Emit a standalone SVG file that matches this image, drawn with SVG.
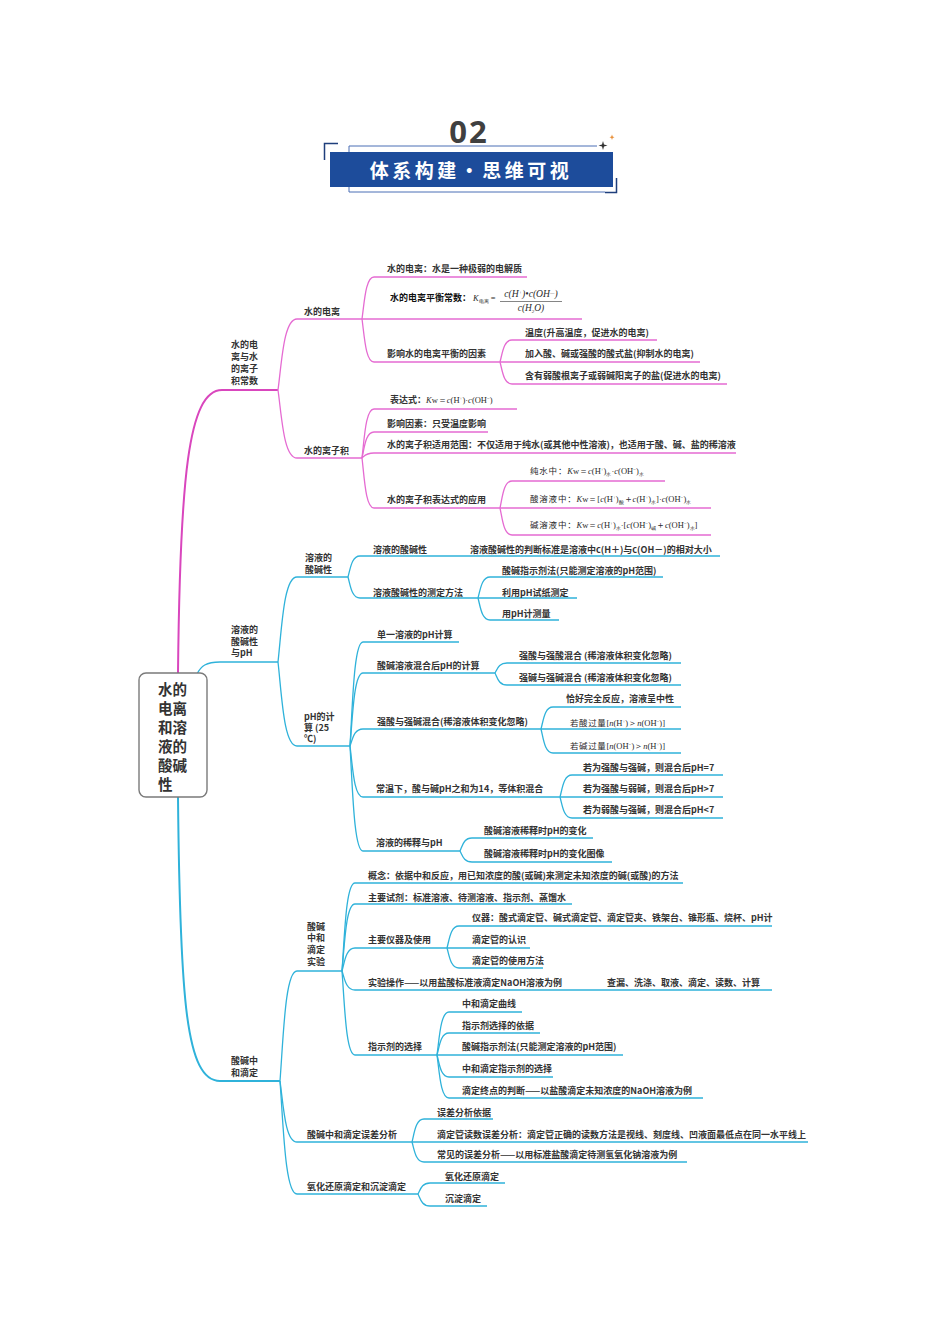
<svg xmlns="http://www.w3.org/2000/svg" width="950" height="1344" viewBox="0 0 950 1344">
<style>
.t{font-family:"Noto Sans CJK SC","Liberation Sans",sans-serif;font-size:9px;font-weight:bold;fill:#333}
.r{font-family:"Noto Sans CJK SC","Liberation Sans",sans-serif;font-size:8.5px;font-weight:normal;fill:#2a2a2a}
.m{font-family:"Liberation Serif",serif;font-size:8.5px;font-weight:normal;fill:#2a2a2a}
.i{font-style:italic}
.sb{font-size:5px}
.pk{fill:none;stroke:#e56bd2;stroke-width:1.3}
.bl{fill:none;stroke:#2fb2da;stroke-width:1.3}
</style>
<rect width="950" height="1344" fill="#fff"/>
<g id="header">
<text x="469" y="143" text-anchor="middle" font-family="'Open Sans','Liberation Sans',sans-serif" font-size="31" font-weight="bold" fill="#404040" letter-spacing="2">02</text>
<path d="M349,152 V146 H597 M349,186 V192 H605" fill="none" stroke="#4a6fb5" stroke-width="1"/>
<path d="M338,143.5 H324.5 V160" fill="none" stroke="#1f3f7c" stroke-width="1.5"/>
<path d="M605,192.5 H616.5 V178" fill="none" stroke="#1f3f7c" stroke-width="1.5"/>
<rect x="330" y="152" width="283" height="35" fill="#1d4c9b"/>
<text x="471" y="178" text-anchor="middle" font-family="'Noto Sans CJK SC',sans-serif" font-size="19" font-weight="bold" fill="#fff" letter-spacing="3.5">体系构建·思维可视</text>
<path d="M603,141 L604,144.5 L607.5,145.5 L604,146.5 L603,150 L602,146.5 L598.5,145.5 L602,144.5 Z" fill="#333"/>
<path d="M612,134.5 L612.7,136.5 L614.5,137.2 L612.7,137.9 L612,140 L611.3,137.9 L609.5,137.2 L611.3,136.5 Z" fill="#e8903a"/>
</g>
<g id="connectors">
<path d="M178,673 C180,480 188,390 222,390 L278,390" fill="none" stroke="#d946bd" stroke-width="2"/>
<path class="pk" d="M278,390 C281.8,361.6 283.7,319 297,319 L362,319"/>
<path class="pk" d="M278,390 C281.8,417.2 283.7,458 297,458 L362,458"/>
<path class="pk" d="M362,319 C364.4,302.2 365.6,277 374,277 L527,277"/>
<path class="pk" d="M362,319 L582,319"/>
<path class="pk" d="M362,319 C364.4,336.2 365.6,362 374,362 L500,362"/>
<path class="pk" d="M500,362 C502.4,353.2 503.6,340 512,340 L657,340"/>
<path class="pk" d="M500,362 L700,362"/>
<path class="pk" d="M500,362 C502.4,370.8 503.6,384 512,384 L727,384"/>
<path class="pk" d="M362,458 C364.4,438.4 365.6,409 374,409 L517,409"/>
<path class="pk" d="M362,458 C364.4,447.6 365.6,432 374,432 L488,432"/>
<path class="pk" d="M362,458 C364.4,456 365.6,453 374,453 L736,453"/>
<path class="pk" d="M362,458 C364.4,478 365.6,508 374,508 L500,508"/>
<path class="pk" d="M500,508 C502.4,497.2 503.6,481 512,481 L665,481"/>
<path class="pk" d="M500,508 L711,508"/>
<path class="pk" d="M500,508 C502.4,518.8 503.6,535 512,535 L711,535"/>
<path class="bl" d="M197,674 C201,666 206,662 220,662 L278,662"/>
<path class="bl" d="M278,662 C281.8,628 283.7,577 297,577 L348,577"/>
<path class="bl" d="M278,662 C281.8,695.6 283.7,746 297,746 L350,746"/>
<path class="bl" d="M348,577 C350.4,568.6 351.6,556 360,556 L720,556"/>
<path class="bl" d="M348,577 C350.4,585.4 351.6,598 360,598 L478,598"/>
<path class="bl" d="M478,598 C480.4,589.6 481.6,577 490,577 L663,577"/>
<path class="bl" d="M478,598 L577,598"/>
<path class="bl" d="M478,598 C480.4,606.8 481.6,620 490,620 L559,620"/>
<path class="bl" d="M350,746 C352.6,704.4 353.9,642 363,642 L459,642"/>
<path class="bl" d="M350,746 C352.6,716.8 353.9,673 363,673 L495,673"/>
<path class="bl" d="M350,746 C352.6,739.2 353.9,729 363,729 L541,729"/>
<path class="bl" d="M350,746 C352.6,766.4 353.9,797 363,797 L560,797"/>
<path class="bl" d="M350,746 C352.6,788 353.9,851 363,851 L460,851"/>
<path class="bl" d="M495,673 C497.4,669 498.6,663 507,663 L681,663"/>
<path class="bl" d="M495,673 C497.4,677.8 498.6,685 507,685 L681,685"/>
<path class="bl" d="M541,729 C543.4,720.2 544.6,707 553,707 L681,707"/>
<path class="bl" d="M541,729 L681,729"/>
<path class="bl" d="M541,729 C543.4,738.6 544.6,753 553,753 L681,753"/>
<path class="bl" d="M560,797 C562.4,788.2 563.6,775 572,775 L723,775"/>
<path class="bl" d="M560,797 L723,797"/>
<path class="bl" d="M560,797 C562.4,805.4 563.6,818 572,818 L723,818"/>
<path class="bl" d="M460,851 C462.4,845.8 463.6,838 472,838 L593,838"/>
<path class="bl" d="M460,851 C462.4,855.4 463.6,862 472,862 L612,862"/>
<path d="M178,797 C180,1000 186,1081 220,1081 L280,1081" fill="none" stroke="#2fb2da" stroke-width="2"/>
<path class="bl" d="M280,1081 C283.4,1037 285.1,971 297,971 L342,971"/>
<path class="bl" d="M280,1081 C283.4,1105.4 285.1,1142 297,1142 L412,1142"/>
<path class="bl" d="M280,1081 C283.4,1126.2 285.1,1194 297,1194 L418,1194"/>
<path class="bl" d="M342,971 C344.6,935.8 345.9,883 355,883 L683,883"/>
<path class="bl" d="M342,971 C344.6,944.2 345.9,904 355,904 L572,904"/>
<path class="bl" d="M342,971 C344.6,961.8 345.9,948 355,948 L447,948"/>
<path class="bl" d="M342,971 C344.6,978.6 345.9,990 355,990 L772,990"/>
<path class="bl" d="M342,971 C344.6,1004.6 345.9,1055 355,1055 L437,1055"/>
<path class="bl" d="M447,948 C449.4,939.2 450.6,926 459,926 L772,926"/>
<path class="bl" d="M447,948 L530,948"/>
<path class="bl" d="M447,948 C449.4,956 450.6,968 459,968 L543,968"/>
<path class="bl" d="M437,1055 C439.4,1037.8 440.6,1012 449,1012 L522,1012"/>
<path class="bl" d="M437,1055 C439.4,1046.2 440.6,1033 449,1033 L540,1033"/>
<path class="bl" d="M437,1055 L623,1055"/>
<path class="bl" d="M437,1055 C439.4,1063.8 440.6,1077 449,1077 L553,1077"/>
<path class="bl" d="M437,1055 C439.4,1072.2 440.6,1098 449,1098 L703,1098"/>
<path class="bl" d="M412,1142 C414.4,1132.8 415.6,1119 424,1119 L493,1119"/>
<path class="bl" d="M412,1142 L808,1142"/>
<path class="bl" d="M412,1142 C414.4,1150 415.6,1162 424,1162 L687,1162"/>
<path class="bl" d="M418,1194 C420.4,1189.6 421.6,1183 430,1183 L505,1183"/>
<path class="bl" d="M418,1194 C420.4,1198.8 421.6,1206 430,1206 L487,1206"/>
</g>
<g id="root">
<rect x="139" y="673" width="68" height="124" rx="7" fill="#fff" stroke="#7a7a7a" stroke-width="1.4"/>
<text font-family="'Noto Sans CJK SC',sans-serif" font-size="14.5" font-weight="bold" fill="#333" x="158">
<tspan x="158" y="695">水的</tspan><tspan x="158" y="714">电离</tspan><tspan x="158" y="733">和溶</tspan><tspan x="158" y="752">液的</tspan><tspan x="158" y="771">酸碱</tspan><tspan x="158" y="790">性</tspan></text>
</g>
<g id="n-water"><text class="t"><tspan x="231" y="348">水的电</tspan><tspan x="231" y="360">离与水</tspan><tspan x="231" y="372">的离子</tspan><tspan x="231" y="384">积常数</tspan></text></g>
<g id="n-ionization"><text class="t" x="304" y="315">水的电离</text></g>
<g id="n-ion1"><text class="t" x="387" y="272">水的电离：水是一种极弱的电解质</text></g>
<g id="n-ion2"><text class="t" x="390" y="301" style="fill:#111">水的电离平衡常数：</text>
<text class="m" x="473" y="301"><tspan class="i">K</tspan><tspan class="sb" dy="2">电离</tspan><tspan dy="-2"> =</tspan></text>
<text class="m i" x="531" y="297" text-anchor="middle" style="font-size:9.6px">c(H<tspan class="sb" dy="-3">+</tspan><tspan dy="3">)</tspan>•c(OH<tspan class="sb" dy="-3">—</tspan><tspan dy="3">)</tspan></text>
<path d="M500,301.5 H562" stroke="#333" stroke-width="0.6"/>
<text class="m i" x="531" y="311" text-anchor="middle" style="font-size:9.4px">c(H<tspan class="sb" dy="2">2</tspan><tspan dy="-2">O)</tspan></text></g>
<g id="n-ion3"><text class="t" x="387" y="357">影响水的电离平衡的因素</text></g>
<g id="n-ion3a"><text class="t" x="525" y="336">温度(升高温度，促进水的电离)</text></g>
<g id="n-ion3b"><text class="t" x="525" y="357">加入酸、碱或强酸的酸式盐(抑制水的电离)</text></g>
<g id="n-ion3c"><text class="t" x="525" y="379">含有弱酸根离子或弱碱阳离子的盐(促进水的电离)</text></g>
<g id="n-kw"><text class="t" x="304" y="454">水的离子积</text></g>
<g id="n-kw1"><text class="t" x="390" y="403">表达式：<tspan class="m" style="font-weight:normal"><tspan class="i">K</tspan>w＝<tspan class="i">c</tspan>(H<tspan class="sb" dy="-3">+</tspan><tspan dy="3">)·</tspan><tspan class="i">c</tspan>(OH<tspan class="sb" dy="-3">−</tspan><tspan dy="3">)</tspan></tspan></text></g>
<g id="n-kw2"><text class="t" x="387" y="427">影响因素：只受温度影响</text></g>
<g id="n-kw3"><text class="t" x="387" y="448">水的离子积适用范围：不仅适用于纯水(或其他中性溶液)，也适用于酸、碱、盐的稀溶液</text></g>
<g id="n-kw4"><text class="t" x="387" y="503">水的离子积表达式的应用</text></g>
<g id="n-kw4a"><text class="r" x="530" y="474" letter-spacing="0.8">纯水中：<tspan class="m" letter-spacing="0"><tspan class="i">K</tspan>w＝<tspan class="i">c</tspan>(H<tspan class="sb" dy="-3">+</tspan><tspan dy="3">)</tspan><tspan class="sb" dy="1.5">水</tspan><tspan dy="-1.5">·</tspan><tspan class="i">c</tspan>(OH<tspan class="sb" dy="-3">−</tspan><tspan dy="3">)</tspan><tspan class="sb" dy="1.5">水</tspan></tspan></text></g>
<g id="n-kw4b"><text class="r" x="530" y="502" letter-spacing="0.8">酸溶液中：<tspan class="m" letter-spacing="0"><tspan class="i">K</tspan>w＝[<tspan class="i">c</tspan>(H<tspan class="sb" dy="-3">+</tspan><tspan dy="3">)</tspan><tspan class="sb" dy="1.5">酸</tspan><tspan dy="-1.5">＋</tspan><tspan class="i">c</tspan>(H<tspan class="sb" dy="-3">+</tspan><tspan dy="3">)</tspan><tspan class="sb" dy="1.5">水</tspan><tspan dy="-1.5">]·</tspan><tspan class="i">c</tspan>(OH<tspan class="sb" dy="-3">−</tspan><tspan dy="3">)</tspan><tspan class="sb" dy="1.5">水</tspan></tspan></text></g>
<g id="n-kw4c"><text class="r" x="530" y="528" letter-spacing="0.8">碱溶液中：<tspan class="m" letter-spacing="0"><tspan class="i">K</tspan>w＝<tspan class="i">c</tspan>(H<tspan class="sb" dy="-3">+</tspan><tspan dy="3">)</tspan><tspan class="sb" dy="1.5">水</tspan><tspan dy="-1.5">·[</tspan><tspan class="i">c</tspan>(OH<tspan class="sb" dy="-3">−</tspan><tspan dy="3">)</tspan><tspan class="sb" dy="1.5">碱</tspan><tspan dy="-1.5">＋</tspan><tspan class="i">c</tspan>(OH<tspan class="sb" dy="-3">−</tspan><tspan dy="3">)</tspan><tspan class="sb" dy="1.5">水</tspan><tspan dy="-1.5">]</tspan></tspan></text></g>
<g id="n-ph"><text class="t"><tspan x="231" y="633">溶液的</tspan><tspan x="231" y="645">酸碱性</tspan><tspan x="231" y="656">与pH</tspan></text></g>
<g id="n-acid"><text class="t"><tspan x="305" y="561">溶液的</tspan><tspan x="305" y="573">酸碱性</tspan></text></g>
<g id="n-acid1"><text class="t" x="373" y="553">溶液的酸碱性</text><text class="t" x="470" y="553">溶液酸碱性的判断标准是溶液中c(H＋)与c(OH－)的相对大小</text></g>
<g id="n-acid2"><text class="t" x="373" y="596">溶液酸碱性的测定方法</text></g>
<g id="n-acid2a"><text class="t" x="502" y="574">酸碱指示剂法(只能测定溶液的pH范围)</text></g>
<g id="n-acid2b"><text class="t" x="502" y="596">利用pH试纸测定</text></g>
<g id="n-acid2c"><text class="t" x="502" y="617">用pH计测量</text></g>
<g id="n-calc"><text class="t"><tspan x="304" y="720">pH的计</tspan><tspan x="304" y="731">算 (25</tspan><tspan x="304" y="742">℃)</tspan></text></g>
<g id="n-calc1"><text class="t" x="377" y="638">单一溶液的pH计算</text></g>
<g id="n-calc2"><text class="t" x="377" y="669">酸碱溶液混合后pH的计算</text></g>
<g id="n-calc2a"><text class="t" x="519" y="659">强酸与强酸混合 (稀溶液体积变化忽略)</text></g>
<g id="n-calc2b"><text class="t" x="519" y="681">强碱与强碱混合 (稀溶液体积变化忽略)</text></g>
<g id="n-calc3"><text class="t" x="377" y="725">强酸与强碱混合(稀溶液体积变化忽略)</text></g>
<g id="n-calc3a"><text class="t" x="566" y="702">恰好完全反应，溶液呈中性</text></g>
<g id="n-calc3b"><text class="r" x="570" y="726" letter-spacing="0.6">若酸过量<tspan class="m" letter-spacing="0">[<tspan class="i">n</tspan>(H<tspan class="sb" dy="-3">+</tspan><tspan dy="3">)＞</tspan><tspan class="i">n</tspan>(OH<tspan class="sb" dy="-3">−</tspan><tspan dy="3">)]</tspan></tspan></text></g>
<g id="n-calc3c"><text class="r" x="570" y="749" letter-spacing="0.6">若碱过量<tspan class="m" letter-spacing="0">[<tspan class="i">n</tspan>(OH<tspan class="sb" dy="-3">−</tspan><tspan dy="3">)＞</tspan><tspan class="i">n</tspan>(H<tspan class="sb" dy="-3">+</tspan><tspan dy="3">)]</tspan></tspan></text></g>
<g id="n-calc4"><text class="t" x="376" y="792">常温下，酸与碱pH之和为14，等体积混合</text></g>
<g id="n-calc4a"><text class="t" x="583" y="771">若为强酸与强碱，则混合后pH=7</text></g>
<g id="n-calc4b"><text class="t" x="583" y="792">若为强酸与弱碱，则混合后pH&gt;7</text></g>
<g id="n-calc4c"><text class="t" x="583" y="813">若为弱酸与强碱，则混合后pH&lt;7</text></g>
<g id="n-calc5"><text class="t" x="376" y="846">溶液的稀释与pH</text></g>
<g id="n-calc5a"><text class="t" x="484" y="834">酸碱溶液稀释时pH的变化</text></g>
<g id="n-calc5b"><text class="t" x="484" y="857">酸碱溶液稀释时pH的变化图像</text></g>
<g id="n-titr"><text class="t"><tspan x="231" y="1064">酸碱中</tspan><tspan x="231" y="1076">和滴定</tspan></text></g>
<g id="n-exp"><text class="t"><tspan x="307" y="930">酸碱</tspan><tspan x="307" y="941">中和</tspan><tspan x="307" y="953">滴定</tspan><tspan x="307" y="965">实验</tspan></text></g>
<g id="n-exp1"><text class="t" x="368" y="879">概念：依据中和反应，用已知浓度的酸(或碱)来测定未知浓度的碱(或酸)的方法</text></g>
<g id="n-exp2"><text class="t" x="368" y="901">主要试剂：标准溶液、待测溶液、指示剂、蒸馏水</text></g>
<g id="n-exp3"><text class="t" x="368" y="943">主要仪器及使用</text></g>
<g id="n-exp3a"><text class="t" x="472" y="921">仪器：酸式滴定管、碱式滴定管、滴定管夹、铁架台、锥形瓶、烧杯、pH计</text></g>
<g id="n-exp3b"><text class="t" x="472" y="943">滴定管的认识</text></g>
<g id="n-exp3c"><text class="t" x="472" y="964">滴定管的使用方法</text></g>
<g id="n-exp4"><text class="t" x="368" y="986">实验操作——以用盐酸标准液滴定NaOH溶液为例</text><text class="t" x="607" y="986">查漏、洗涤、取液、滴定、读数、计算</text></g>
<g id="n-exp5"><text class="t" x="368" y="1050">指示剂的选择</text></g>
<g id="n-exp5a"><text class="t" x="462" y="1007">中和滴定曲线</text></g>
<g id="n-exp5b"><text class="t" x="462" y="1029">指示剂选择的依据</text></g>
<g id="n-exp5c"><text class="t" x="462" y="1050">酸碱指示剂法(只能测定溶液的pH范围)</text></g>
<g id="n-exp5d"><text class="t" x="462" y="1072">中和滴定指示剂的选择</text></g>
<g id="n-exp5e"><text class="t" x="462" y="1094">滴定终点的判断——以盐酸滴定未知浓度的NaOH溶液为例</text></g>
<g id="n-err"><text class="t" x="307" y="1138">酸碱中和滴定误差分析</text></g>
<g id="n-err1"><text class="t" x="437" y="1116">误差分析依据</text></g>
<g id="n-err2"><text class="t" x="437" y="1138">滴定管读数误差分析：滴定管正确的读数方法是视线、刻度线、凹液面最低点在同一水平线上</text></g>
<g id="n-err3"><text class="t" x="437" y="1158">常见的误差分析——以用标准盐酸滴定待测氢氧化钠溶液为例</text></g>
<g id="n-redox"><text class="t" x="307" y="1190">氧化还原滴定和沉淀滴定</text></g>
<g id="n-redox1"><text class="t" x="445" y="1180">氧化还原滴定</text></g>
<g id="n-redox2"><text class="t" x="445" y="1202">沉淀滴定</text></g>
</svg>
